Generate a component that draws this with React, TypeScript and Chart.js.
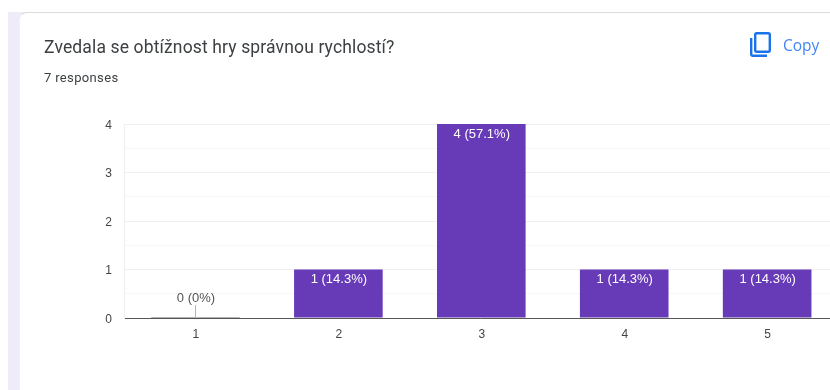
import React, { useEffect, useRef } from "react";
import { Chart, registerables } from "chart.js";

Chart.register(...registerables);

const categories = ["1", "2", "3", "4", "5"];
const responseCounts = [0, 1, 4, 1, 1];
const valueLabels = ["0 (0%)", "1 (14.3%)", "4 (57.1%)", "1 (14.3%)", "1 (14.3%)"];
const questionTitle = "Zvedala se obtížnost hry správnou rychlostí?";
const responseNote = "7 responses";

const LABEL_FAMILY = '"Liberation Sans", Arial, sans-serif';

// Writes the count and share on each bar; empty categories get a leader line above the axis.
const barLabels = {
  id: "barLabels",
  afterDatasetsDraw(chart: any) {
    const { ctx } = chart;
    const bars = chart.getDatasetMeta(0).data;
    ctx.save();
    ctx.font = `13px ${LABEL_FAMILY}`;
    ctx.textAlign = "center";
    ctx.textBaseline = "middle";
    bars.forEach((bar: any, i: number) => {
      if (responseCounts[i] === 0) {
        ctx.strokeStyle = "#b4b4b4";
        ctx.lineWidth = 1;
        ctx.beginPath();
        ctx.moveTo(bar.x - bar.width / 2, bar.y - 0.5);
        ctx.lineTo(bar.x + bar.width / 2, bar.y - 0.5);
        ctx.moveTo(Math.round(bar.x) + 0.5, bar.y);
        ctx.lineTo(Math.round(bar.x) + 0.5, bar.y - 13);
        ctx.stroke();
        ctx.fillStyle = "#555555";
        ctx.fillText(valueLabels[i], bar.x + 0.5, bar.y - 20);
      } else {
        ctx.fillStyle = "#ffffff";
        ctx.fillText(valueLabels[i], bar.x + 0.5, bar.y + 10);
      }
    });
    ctx.restore();
  },
};

export default function App() {
  const canvasRef = useRef<HTMLCanvasElement>(null);

  useEffect(() => {
    const chart = new Chart(canvasRef.current!, {
      type: "bar",
      data: {
        labels: categories,
        datasets: [
          {
            data: responseCounts,
            backgroundColor: "#673ab7",
            barPercentage: 0.62,
            categoryPercentage: 1,
          },
        ],
      },
      options: {
        responsive: false,
        animation: false,
        layout: { padding: { top: 124, right: 11.4 } },
        plugins: { legend: { display: false }, tooltip: { enabled: false } },
        scales: {
          x: {
            afterFit: (axis: any) => {
              axis.height = 72;
            },
            grid: { display: false, drawTicks: false },
            border: { color: "#555555", width: 1 },
            ticks: {
              color: "#444444",
              padding: 9,
              maxRotation: 0,
              labelOffset: 0.5,
              font: { family: LABEL_FAMILY, size: 12 },
            },
          },
          y: {
            min: 0,
            max: 4,
            afterFit: (axis: any) => {
              axis.width = 124;
            },
            grid: {
              drawTicks: false,
              color: (c: any) => (Number.isInteger(c.tick.value) ? "#efefef" : "#f7f7f7"),
            },
            border: { color: "#efefef" },
            ticks: {
              stepSize: 0.5,
              color: "#444444",
              padding: 12,
              labelOffset: 1.5,
              font: { family: LABEL_FAMILY, size: 12 },
              callback: (v: any) => (Number.isInteger(v) ? String(v) : ""),
            },
          },
        },
      },
      plugins: [barLabels],
    });
    return () => chart.destroy();
  }, []);

  return (
    <div
      style={{
        position: "fixed",
        inset: 0,
        overflow: "hidden",
        background: "#ffffff",
        fontFamily: "Roboto, sans-serif",
      }}
    >
      <div style={{ position: "absolute", left: 8, top: 12, width: 30, bottom: 0, background: "#f0ebf8" }} />
      <div
        style={{
          position: "absolute",
          left: 19,
          top: 12,
          width: 860,
          height: 420,
          background: "#ffffff",
          borderRadius: "8px 0 0 0",
          borderTop: "1px solid #dadce0",
          borderLeft: "1px solid #f1f1f4",
          boxSizing: "border-box",
        }}
      />
      <canvas
        ref={canvasRef}
        width={850}
        height={390}
        style={{ position: "absolute", left: 0, top: 0, display: "block" }}
      />
      <div
        style={{
          position: "absolute",
          left: 44,
          top: 35,
          fontSize: 17.5,
          lineHeight: "24px",
          letterSpacing: 0.14,
          color: "#3c4043",
          whiteSpace: "nowrap",
        }}
      >
        {questionTitle}
      </div>
      <div
        style={{
          position: "absolute",
          left: 44,
          top: 70,
          fontSize: 13,
          lineHeight: "16px",
          letterSpacing: 0.35,
          color: "#3c4043",
          whiteSpace: "nowrap",
        }}
      >
        {responseNote}
      </div>
      <svg
        width="24"
        height="28"
        viewBox="0 0 24 28"
        style={{ position: "absolute", left: 748, top: 31 }}
        fill="none"
        stroke="#1a73e8"
        strokeWidth="2.4"
      >
        <rect x="7.2" y="2.2" width="14.6" height="18.6" rx="1.5" />
        <path d="M3.2 7v16.3a1.5 1.5 0 0 0 1.5 1.5H19" />
      </svg>
      <div
        style={{
          position: "absolute",
          left: 783,
          top: 35,
          fontFamily: '"Open Sans", sans-serif',
          fontSize: 15.5,
          lineHeight: "20px",
          color: "#4285f4",
          whiteSpace: "nowrap",
        }}
      >
        Copy
      </div>
    </div>
  );
}
